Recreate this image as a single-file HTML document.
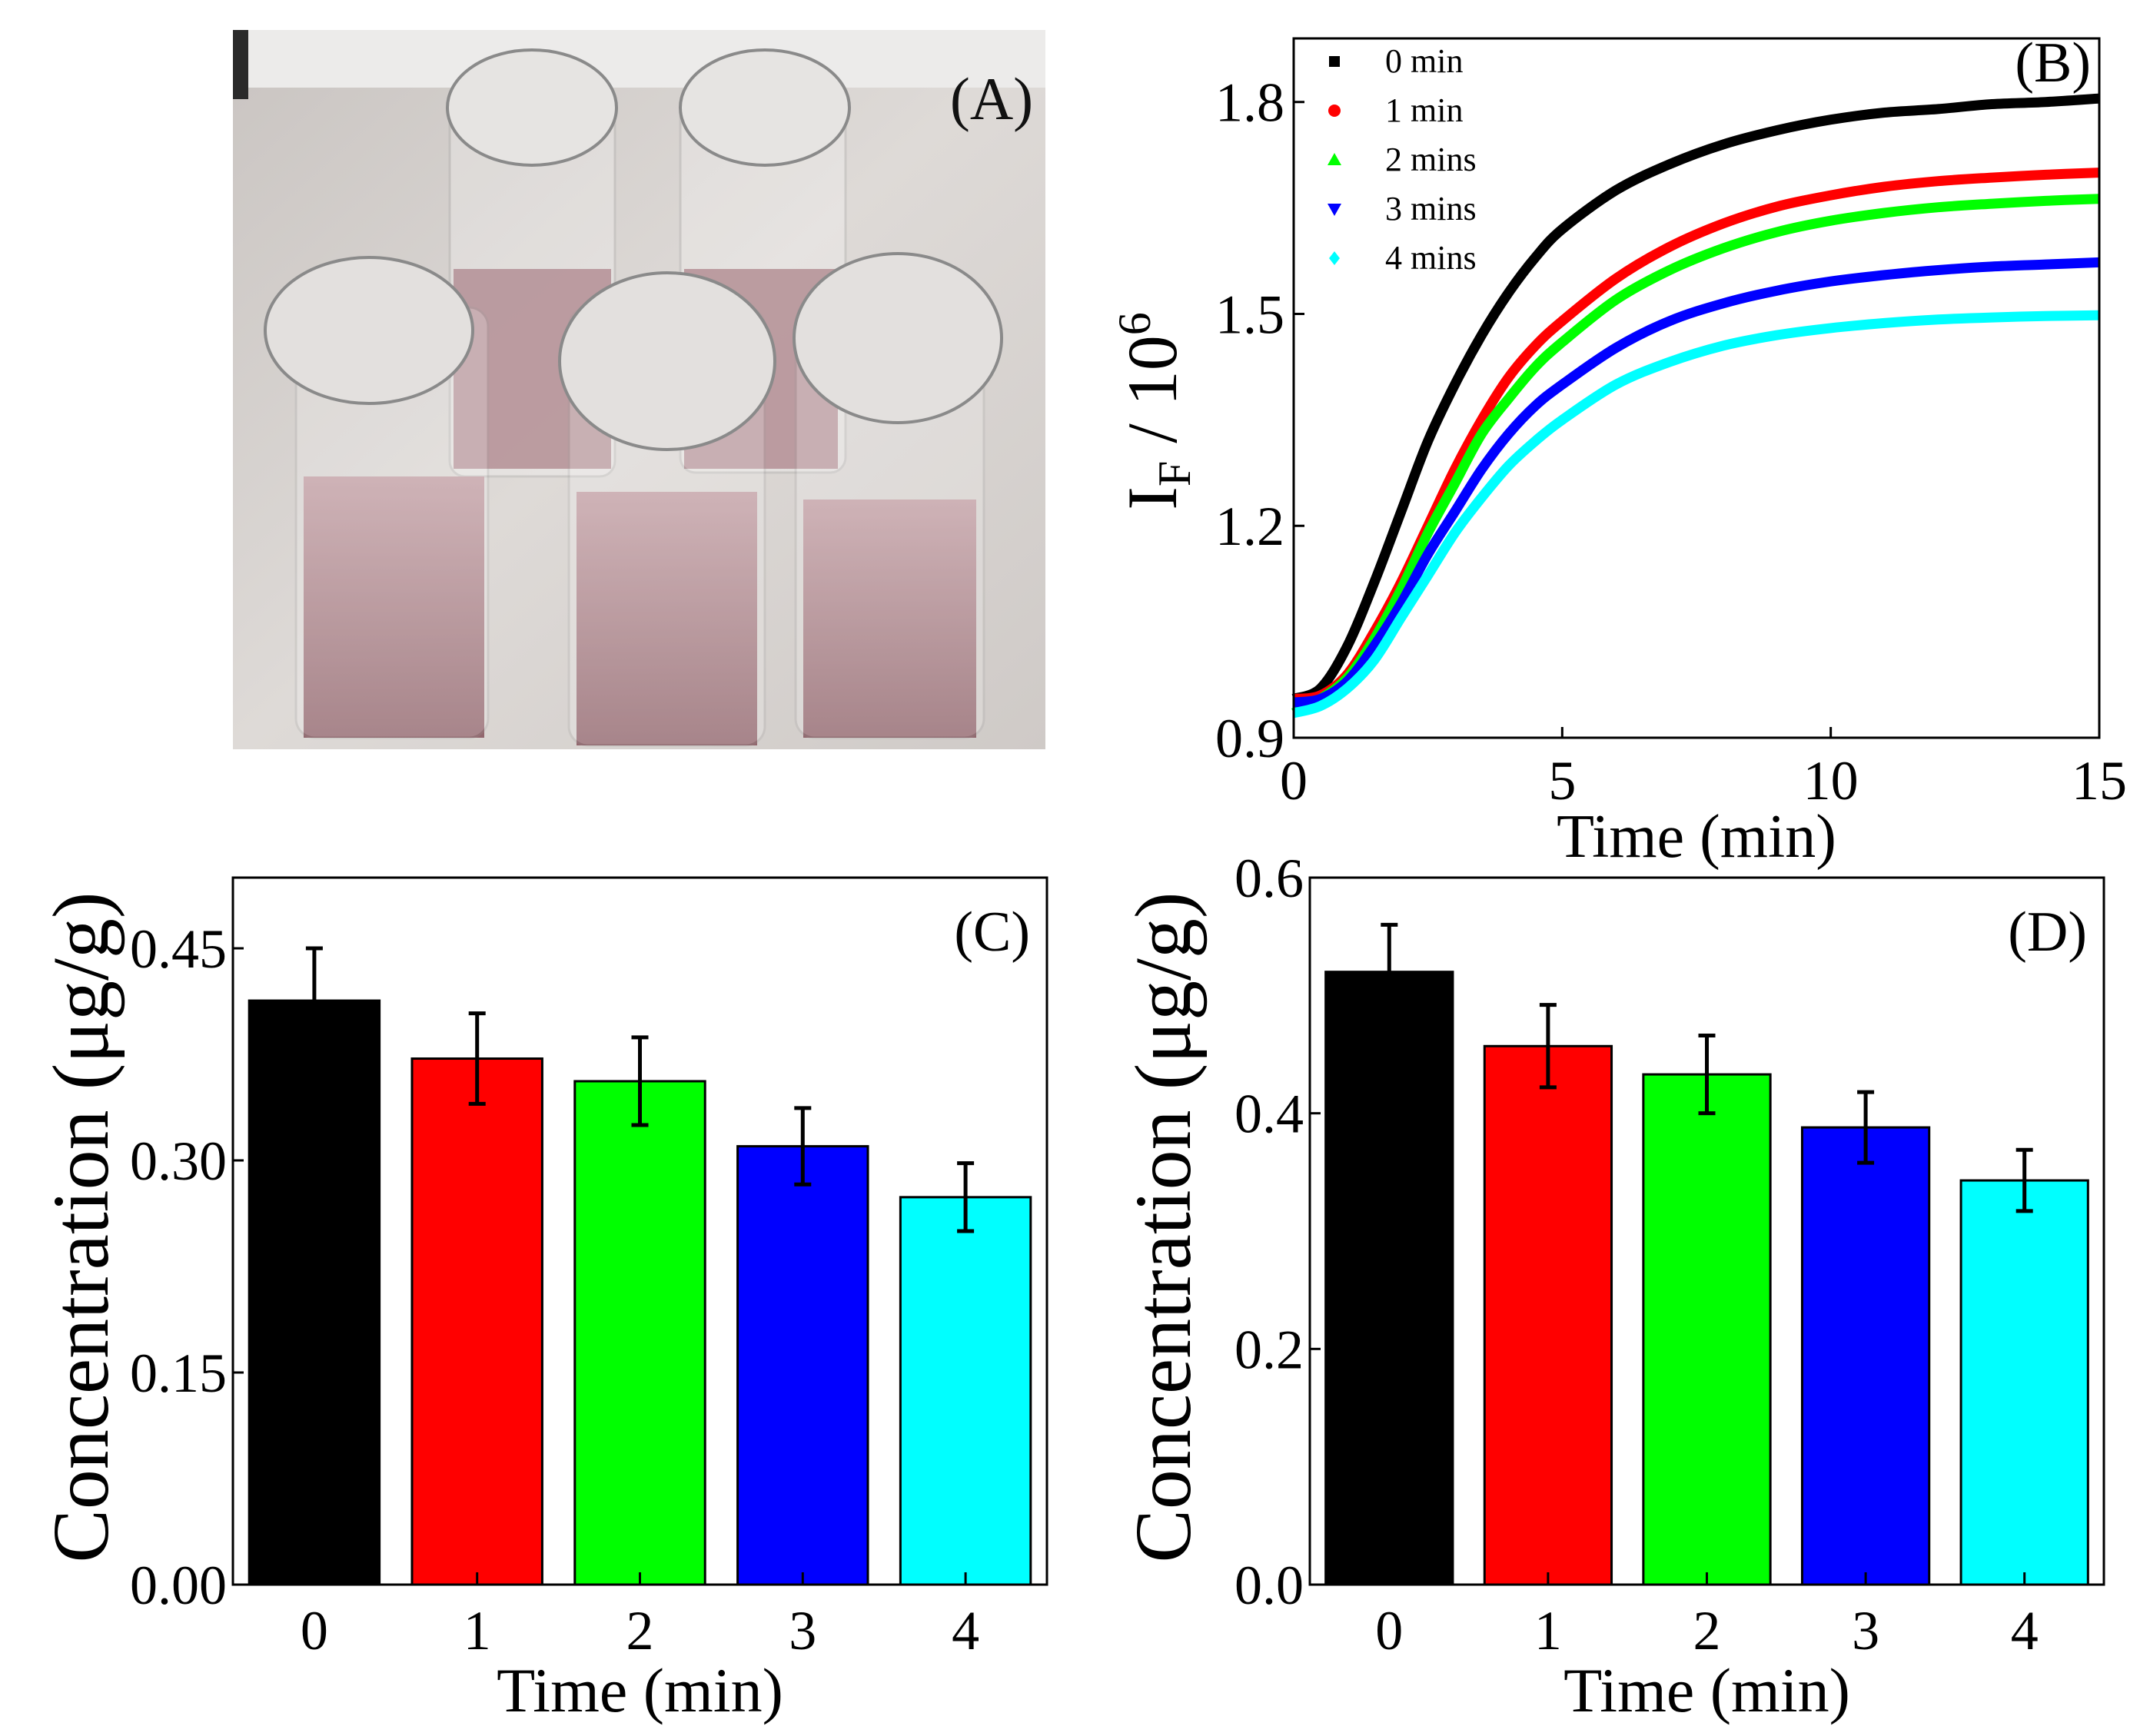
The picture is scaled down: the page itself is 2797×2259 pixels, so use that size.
<!DOCTYPE html>
<html><head><meta charset="utf-8"><style>
html,body{margin:0;padding:0;background:#fff;}
svg{display:block;font-family:"Liberation Serif","DejaVu Serif",serif;}
</style></head><body>
<svg id="fig" width="2797" height="2259" viewBox="0 0 2797 2259" xmlns="http://www.w3.org/2000/svg">
<defs>
<linearGradient id="bg" x1="0" y1="0" x2="1" y2="1"><stop offset="0" stop-color="#c9c4c1"/><stop offset="0.5" stop-color="#dedad7"/><stop offset="1" stop-color="#cfcac7"/></linearGradient>
<linearGradient id="meat" x1="0" y1="0" x2="0" y2="1"><stop offset="0" stop-color="#c09aa0"/><stop offset="1" stop-color="#8a5a62"/></linearGradient>
</defs>
<g>
<rect x="303" y="39" width="1057" height="936" fill="url(#bg)"/>
<rect x="303" y="39" width="1057" height="75" fill="#ecebea"/>
<rect x="303" y="39" width="20" height="90" fill="#2a2a2a"/>
<g>
<rect x="590" y="350" width="205" height="260" fill="#9a6a72" opacity="0.85"/>
<rect x="585" y="120" width="215" height="500" rx="20" fill="#ffffff" opacity="0.25" stroke="#9a9a9a" stroke-width="3"/>
<ellipse cx="692" cy="140" rx="110" ry="75" fill="#e6e4e2" stroke="#8a8a8a" stroke-width="4"/></g>
<g>
<rect x="890" y="350" width="200" height="260" fill="#9a6a72" opacity="0.85"/>
<rect x="885" y="115" width="215" height="500" rx="20" fill="#ffffff" opacity="0.25" stroke="#9a9a9a" stroke-width="3"/>
<ellipse cx="995" cy="140" rx="110" ry="75" fill="#e6e4e2" stroke="#8a8a8a" stroke-width="4"/></g>
<g>
<rect x="395" y="620" width="235" height="340" fill="url(#meat)" opacity="0.9"/>
<rect x="385" y="400" width="250" height="560" rx="25" fill="#ffffff" opacity="0.2" stroke="#999" stroke-width="3"/>
<ellipse cx="480" cy="430" rx="135" ry="95" fill="#e3e0de" stroke="#8a8a8a" stroke-width="4"/></g>
<g>
<rect x="750" y="640" width="235" height="330" fill="url(#meat)" opacity="0.9"/>
<rect x="740" y="400" width="255" height="570" rx="25" fill="#ffffff" opacity="0.2" stroke="#999" stroke-width="3"/>
<ellipse cx="868" cy="470" rx="140" ry="115" fill="#e3e0de" stroke="#8a8a8a" stroke-width="4"/></g>
<g>
<rect x="1045" y="650" width="225" height="310" fill="url(#meat)" opacity="0.9"/>
<rect x="1035" y="400" width="245" height="560" rx="25" fill="#ffffff" opacity="0.2" stroke="#999" stroke-width="3"/>
<ellipse cx="1168" cy="440" rx="135" ry="110" fill="#e3e0de" stroke="#8a8a8a" stroke-width="4"/></g>
<text x="1290" y="155" font-size="78" text-anchor="middle" fill="#111">(A)</text>
</g>
<g id="chartB"></g>
<g id="chartC"></g>
<g id="chartD"></g>
</svg>
<script>
const bTimes=[0,0.5,1,1.5,2,2.5,3,3.5,4,4.5,5,6,7,8,9,10,11,12,13,14,15];
const bSeries0=[0.955,0.97,1.03,1.12,1.22,1.32,1.40,1.47,1.53,1.58,1.62,1.675,1.712,1.74,1.76,1.775,1.785,1.79,1.797,1.80,1.805];
const bSeries1=[0.955,0.96,0.99,1.05,1.12,1.20,1.28,1.35,1.41,1.455,1.49,1.55,1.595,1.628,1.652,1.668,1.68,1.688,1.693,1.697,1.70];
const bSeries2=[0.935,0.955,0.985,1.04,1.11,1.19,1.26,1.33,1.38,1.425,1.46,1.52,1.562,1.593,1.616,1.632,1.643,1.651,1.656,1.66,1.663];
const bSeries3=[0.95,0.955,0.98,1.03,1.09,1.16,1.22,1.28,1.33,1.37,1.40,1.452,1.49,1.515,1.533,1.546,1.555,1.562,1.567,1.57,1.573];
const bSeries4=[0.935,0.945,0.97,1.01,1.07,1.13,1.19,1.24,1.285,1.32,1.35,1.40,1.432,1.455,1.47,1.48,1.487,1.492,1.495,1.497,1.498];
const bLabels=["0 min","1 min","2 mins","3 mins","4 mins"];
const bXTicks=[0,5,10,15];
const bYTicks=[0.9,1.2,1.5,1.8];
const barCats=["0","1","2","3","4"];
const cValues=[0.413,0.372,0.356,0.310,0.274];
const cErrors=[0.037,0.032,0.031,0.027,0.024];
const cYTicks=[0,0.15,0.30,0.45];
const cTickLabels=["0.00","0.15","0.30","0.45"];
const dValues=[0.520,0.457,0.433,0.388,0.343];
const dErrors=[0.040,0.035,0.033,0.030,0.026];
const dYTicks=[0,0.2,0.4,0.6];
const dTickLabels=["0.0","0.2","0.4","0.6"];
const colors=["#000000","#ff0000","#00ff00","#0000ff","#00ffff"];
const NS="http://www.w3.org/2000/svg";
function mk(parent,tag,attrs,text){const e=document.createElementNS(NS,tag);for(const k in attrs)e.setAttribute(k,attrs[k]);if(text!==undefined)e.textContent=text;parent.appendChild(e);return e;}
function smooth(pts){
 let d="M"+pts[0][0].toFixed(1)+","+pts[0][1].toFixed(1);
 for(let i=0;i<pts.length-1;i++){
  const p0=pts[Math.max(0,i-1)],p1=pts[i],p2=pts[i+1],p3=pts[Math.min(pts.length-1,i+2)];
  const c1=[p1[0]+(p2[0]-p0[0])/6,p1[1]+(p2[1]-p0[1])/6];
  const c2=[p2[0]-(p3[0]-p1[0])/6,p2[1]-(p3[1]-p1[1])/6];
  d+="C"+c1[0].toFixed(1)+","+c1[1].toFixed(1)+" "+c2[0].toFixed(1)+","+c2[1].toFixed(1)+" "+p2[0].toFixed(1)+","+p2[1].toFixed(1);
 }
 return d;
}

// Panel B
(function(){
const g=document.getElementById('chartB');
const L=1683,R=2731,T=50,B=960;
const x=t=>L+(t-0)/(15-0)*(R-L);
const y=v=>B-(v-0.9)/(1.89-0.9)*(B-T);
const series=[bSeries0,bSeries1,bSeries2,bSeries3,bSeries4];
series.forEach((s,i)=>{
 const pts=s.map((v,j)=>[x(bTimes[j]),y(v)]);
 const p=mk(g,'path',{d:smooth(pts),fill:'none',stroke:colors[i],'stroke-width':13,'stroke-linejoin':'round'});
 
 
});
const f=mk(g,'rect',{x:L,y:T,width:R-L,height:B-T,fill:'none',stroke:'#000','stroke-width':3});


bXTicks.forEach(t=>{
 mk(g,'line',{x1:x(t),x2:x(t),y1:B,y2:B-14,stroke:'#000','stroke-width':3});
 const tx=mk(g,'text',{x:x(t),y:B+80,'font-size':72,'text-anchor':'middle'},String(t));
 
 
});
bYTicks.forEach(v=>{
 mk(g,'line',{x1:L,x2:L+14,y1:y(v),y2:y(v),stroke:'#000','stroke-width':3});
 const tx=mk(g,'text',{x:L-12,y:y(v)+25,'font-size':72,'text-anchor':'end'},v.toFixed(1));
 
 
});
const xt=mk(g,'text',{x:(L+R)/2,y:B+155,'font-size':80,'text-anchor':'middle'},'Time (min)');


const yt=mk(g,'text',{transform:'translate(1530,535) rotate(-90)','font-size':92,'text-anchor':'middle'});


mk(yt,'tspan',{},'I');
mk(yt,'tspan',{'font-size':60,dy:18},'F');
mk(yt,'tspan',{dy:-18},' / 10');
mk(yt,'tspan',{'font-size':60,dy:-34},'6');
const pl=mk(g,'text',{x:2720,y:106,'font-size':74,'text-anchor':'end'},'(B)');


const shapes=['sq','ci','tu','td','di'];
bLabels.forEach((lab,i)=>{
 const cy=80+i*64, cx=1736;
 const le=mk(g,'g',{});
 
 
 const s=shapes[i],c=colors[i];
 if(s==='sq')mk(le,'rect',{x:cx-7,y:cy-7,width:14,height:14,fill:c});
 if(s==='ci')mk(le,'circle',{cx:cx,cy:cy,r:8,fill:c});
 if(s==='tu')mk(le,'polygon',{points:`${cx},${cy-9} ${cx+9},${cy+7} ${cx-9},${cy+7}`,fill:c});
 if(s==='td')mk(le,'polygon',{points:`${cx},${cy+9} ${cx+9},${cy-7} ${cx-9},${cy-7}`,fill:c});
 if(s==='di')mk(le,'polygon',{points:`${cx},${cy-9} ${cx+7},${cy} ${cx},${cy+9} ${cx-7},${cy}`,fill:c});
 mk(le,'text',{x:1802,y:cy+14,'font-size':44},lab);
});
})();

function barChart(id,L,R,T,B,ymax,values,errors,ticks,tickLabels,panel,titleX){
 const g=document.getElementById(id);
 const y=v=>B-v/ymax*(B-T);
 const step=(R-L)/5;
 const xc=i=>L+step*(i+0.5);
 const bw=step*0.8;
 values.forEach((v,i)=>{
  const r=mk(g,'rect',{x:xc(i)-bw/2,y:y(v),width:bw,height:B-y(v),fill:colors[i],stroke:'#000','stroke-width':3});
  
  
  const eb=mk(g,'path',{d:`M${xc(i)},${y(v+errors[i])}V${y(v-errors[i])}M${xc(i)-11},${y(v+errors[i])}h22M${xc(i)-11},${y(v-errors[i])}h22`,stroke:'#000','stroke-width':5,fill:'none'});
  
  
  mk(g,'line',{x1:xc(i),x2:xc(i),y1:B,y2:B-16,stroke:'#000','stroke-width':3});
  const tx=mk(g,'text',{x:xc(i),y:B+84,'font-size':72,'text-anchor':'middle'},barCats[i]);
  
  
 });
 const f=mk(g,'rect',{x:L,y:T,width:R-L,height:B-T,fill:'none',stroke:'#000','stroke-width':3});
 
 
 ticks.forEach((v,i)=>{
  mk(g,'line',{x1:L,x2:L+14,y1:y(v),y2:y(v),stroke:'#000','stroke-width':3});
  const tx=mk(g,'text',{x:L-8,y:y(v)+25,'font-size':72,'text-anchor':'end'},tickLabels[i]);
  
  
 });
 const xt=mk(g,'text',{x:(L+R)/2,y:B+165,'font-size':82,'text-anchor':'middle'},'Time (min)');
 
 
 const yt=mk(g,'text',{transform:`translate(${titleX},${(T+B)/2-5}) rotate(-90)`,'font-size':104,'text-anchor':'middle'},'Concentration (μg/g)');
 
 
 const pl=mk(g,'text',{x:R-22,y:T+95,'font-size':74,'text-anchor':'end'},'('+panel.toUpperCase()+')');
 
 
}
barChart('chartC',303,1362,1142,2062,0.5,cValues,cErrors,cYTicks,cTickLabels,'c',140);
barChart('chartD',1704,2737,1142,2062,0.6,dValues,dErrors,dYTicks,dTickLabels,'d',1548);
</script>
</body></html>
